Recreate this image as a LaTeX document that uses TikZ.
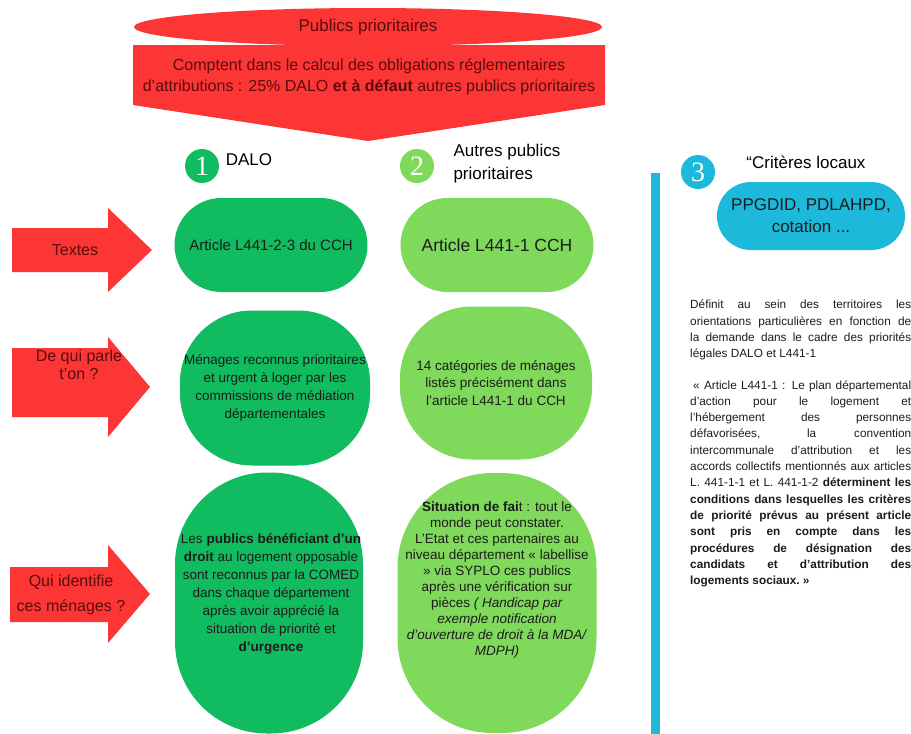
\documentclass[tikz,border=0pt]{standalone}
\usepackage{fontspec}
\setmainfont{Liberation Sans}
\newfontfamily\chiffres{Liberation Serif}
\usetikzlibrary{positioning,shapes.geometric}

\definecolor{rouge}{RGB}{252,53,53}
\definecolor{texterouge}{RGB}{92,12,12}
\definecolor{vertdalo}{RGB}{17,187,95}
\definecolor{vertautres}{RGB}{127,217,91}
\definecolor{bleuloc}{RGB}{29,185,218}
\definecolor{texte}{RGB}{28,28,28}

\begin{document}
\begin{tikzpicture}[x=1pt,y=-1pt,
  numero/.style={circle,minimum size=34pt,inner sep=0pt,text=white,font=\chiffres\fontsize{28}{28}\selectfont},
  titre/.style={font=\fontsize{17}{23}\selectfont,text=black},
  etiquette/.style={align=center,text=texterouge,font=\fontsize{16}{19}\selectfont},
  dalo/.style={fill=vertdalo,inner sep=0pt,align=center,text=texte},
  autres/.style={fill=vertautres,inner sep=0pt,align=center,text=texte},
  corps/.style={align=center,text=texte,font=\fontsize{13.5}{17}\selectfont}]

\useasboundingbox (0,0) rectangle (911,734);
\fill[white] (0,0) rectangle (911,734);

% en-tete rouge
\node[ellipse,fill=rouge,minimum width=468pt,minimum height=38pt,inner sep=0pt,
      text=texterouge,font=\fontsize{17}{20}\selectfont] (publics) at (368,27) {Publics prioritaires};
\fill[rouge] (133,45) -- (605,45) -- (605,105) -- (368,141) -- (133,105) -- cycle;
\node[align=center,text=texterouge,font=\fontsize{16}{21}\selectfont] (comptent) at (369,77)
  {Comptent dans le calcul des obligations réglementaires\\d’attributions : 25\% DALO \textbf{et à défaut} autres publics prioritaires};

% fleches rouges a gauche
\fill[rouge] (12,228) -- (108,228) -- (108,208) -- (152,250) -- (108,292) -- (108,272) -- (12,272) -- cycle;
\fill[rouge] (12,348) -- (108,348) -- (108,337) -- (150,387) -- (108,437) -- (108,417) -- (12,417) -- cycle;
\fill[rouge] (10,567) -- (108,567) -- (108,545) -- (150,594) -- (108,643) -- (108,622) -- (10,622) -- cycle;
\node[etiquette] (textes) at (75,250) {Textes};
\node[etiquette,font=\fontsize{16}{18}\selectfont] (dequi) at (79,365) {De qui parle\\t'on ?};
\node[etiquette,font=\fontsize{16}{25}\selectfont] (quiid) at (71,595) {Qui identifie\\ces ménages ?};

% colonne 1 : DALO
\node[numero,fill=vertdalo] (un) at (202,166) {1};
\node[titre] (dalo) at (249,160) {DALO};
\node[dalo,minimum width=193pt,minimum height=94pt,rounded corners=47pt,
      font=\fontsize{15}{18}\selectfont] (dalo1) at (271,245) {Article L441-2-3 du CCH};
\node[dalo,minimum width=190pt,minimum height=155pt,rounded corners=72pt,
      font=\fontsize{13.5}{18}\selectfont] (dalo2) at (275,388)
  {Ménages reconnus prioritaires\\et urgent à loger par les\\commissions de médiation\\départementales};
\node[dalo,minimum width=188pt,minimum height=261pt,rounded corners=92pt] (dalo3) at (269,603) {};
\node[corps,font=\fontsize{13.5}{18}\selectfont] (dalotexte3) at (271,594)
  {Les \textbf{publics bénéficiant d’un}\\\textbf{droit} au logement opposable\\sont reconnus par la COMED\\dans chaque département\\après avoir apprécié la\\situation de priorité et\\\textbf{d’urgence}};

% colonne 2 : autres publics prioritaires
\node[numero,fill=vertautres] (deux) at (417,166) {2};
\node[titre,anchor=west,align=left] (autrespub) at (450,164) {Autres publics\\prioritaires};
\node[autres,minimum width=193pt,minimum height=94pt,rounded corners=47pt,
      font=\fontsize{17.5}{20}\selectfont] (autres1) at (497,245) {Article L441-1 CCH};
\node[autres,minimum width=192pt,minimum height=153pt,rounded corners=72pt,
      font=\fontsize{13.5}{17.5}\selectfont] (autres2) at (496,383)
  {14 catégories de ménages\\listés précisément dans\\l'article L441-1 du CCH};
\node[autres,minimum width=199pt,minimum height=260pt,rounded corners=95pt] (autres3) at (497,603) {};
\node[corps,font=\fontsize{13.5}{16}\selectfont] (autrestexte3) at (497,580)
  {\textbf{Situation de fai}t : tout le\\monde peut constater.\\L'Etat et ces partenaires au\\niveau département « labellise\\» via SYPLO ces publics\\après une vérification sur\\pièces \textit{( Handicap par}\\\textit{exemple notification}\\\textit{d'ouverture de droit à la MDA/}\\\textit{MDPH)}};

% colonne 3 : criteres locaux
\fill[bleuloc] (651,173) rectangle (660,734);
\node[numero,fill=bleuloc] (trois) at (698,172) {3};
\node[titre] (criteres) at (806,162) {“Critères locaux};
\node[fill=bleuloc,minimum width=188pt,minimum height=68pt,rounded corners=34pt,inner sep=0pt,
      align=center,text=texte,font=\fontsize{17}{22}\selectfont] (ppgdid) at (811,216) {PPGDID, PDLAHPD,\\cotation ...};
\node[anchor=north west,inner sep=0pt,text width=221pt,align=justify,text=texte,
      font=\fontsize{11.8}{16.3}\selectfont] (definit) at (690,300)
  {\hyphenpenalty=10000 Définit au sein des territoires les\linebreak
   orientations particulières en fonction de\linebreak
   la demande dans le cadre des priorités\linebreak
   légales DALO et L441-1\par\vspace{15pt}
   \hspace*{3pt}«~Article L441-1 : Le plan départemental\linebreak
   d'action pour le logement et\linebreak
   l'hébergement des personnes\linebreak
   défavorisées, la convention\linebreak
   intercommunale d'attribution et les\linebreak
   accords collectifs mentionnés aux articles\linebreak
   L. 441-1-1 et L. 441-1-2 \textbf{déterminent les\linebreak
   conditions dans lesquelles les critères\linebreak
   de priorité prévus au présent article\linebreak
   sont pris en compte dans les\linebreak
   procédures de désignation des\linebreak
   candidats et d'attribution des\linebreak
   logements sociaux.~»}\par};
\end{tikzpicture}
\end{document}
